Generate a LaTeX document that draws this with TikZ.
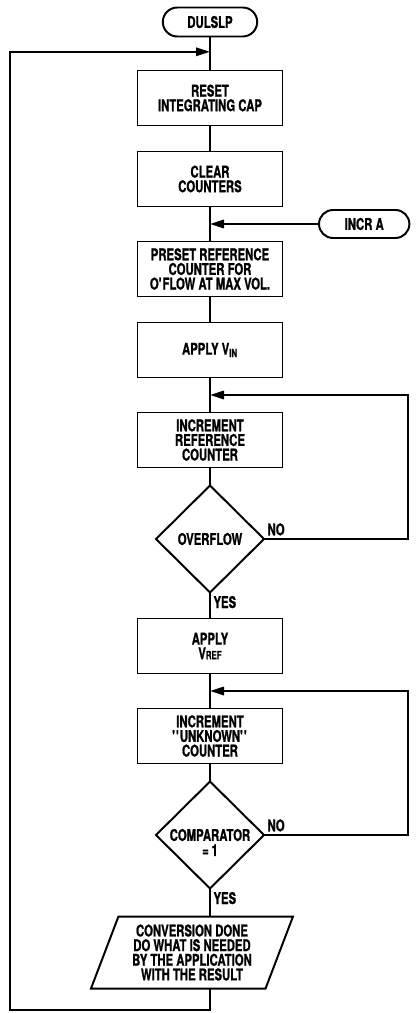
\documentclass[tikz,border=0pt]{standalone}
\usepackage{fontspec}
\setmainfont{TeX Gyre Heros}[FakeStretch=0.7, BoldFeatures={FakeBold=1}]
\usetikzlibrary{positioning}
\usetikzlibrary{calc}
\usetikzlibrary{shapes.geometric,shapes.misc,arrows.meta}

\begin{document}
\begin{tikzpicture}[
                line width=1.4pt,
                every node/.style={font=\fontsize{11.5}{10.4}\selectfont\bfseries, align=center, outer sep=0pt},
                term/.style={rounded rectangle, draw, minimum width=2.5cm, minimum height=0.725cm, inner sep=2pt},
                proc/.style={rectangle, draw, minimum width=3.625cm, minimum height=1.375cm, inner sep=2pt},
                dec/.style={diamond, draw, minimum width=2.7cm, minimum height=2.675cm, inner sep=0pt},
                io/.style={trapezium, trapezium left angle=65, trapezium right angle=115, trapezium stretches body,
                           draw, minimum width=5.05cm, minimum height=1.8cm, inner sep=1pt},
                lbl/.style={inner sep=2.5pt},
                arr/.style={-{Triangle[length=3.5mm,width=2.1mm]}}
            ]
            \useasboundingbox (0,0) rectangle (10.4,-25.325);
            % Nodes
            \node[term] (start) at (5.25,-0.55) {DULSLP};
            \node[proc, below=0.85cm of start] (reset) {RESET\\INTEGRATING CAP};
            \node[proc, below=0.65cm of reset] (clear) {CLEAR\\COUNTERS};
            \node[proc, below=0.875cm of clear] (preset) {PRESET REFERENCE\\COUNTER FOR\\O\textquotesingle FLOW AT MAX VOL.};
            \node[term, minimum width=2.4cm, minimum height=0.7cm, right=2.725cm of $(clear.south)!0.5!(preset.north)$] (incra) {INCR A};
            \node[proc, below=0.65cm of preset] (vin) {APPLY V\textsubscript{IN}};
            \node[proc, below=0.875cm of vin] (incref) {INCREMENT\\REFERENCE\\COUNTER};
            \node[dec, below=0.45cm of incref] (ovf) {OVERFLOW};
            \node[proc, below=0.65cm of ovf] (vref) {APPLY\\V{\footnotesize REF}};
            \node[proc, below=0.875cm of vref] (incunk) {INCREMENT\\\textquotesingle\textquotesingle UNKNOWN\textquotesingle\textquotesingle\\COUNTER};
            \node[dec, below=0.45cm of incunk] (cmp) {COMPARATOR};
            \node (cmpeq) at ([yshift=-0.38cm]cmp.center) {=\,1};
            \node[io, below=0.7cm of cmp, xshift=-0.45cm] (done) {CONVERSION DONE\\DO WHAT IS NEEDED\\BY THE APPLICATION\\WITH THE RESULT};
            \coordinate (back) at ($(start.south)!0.45!(reset.north)$);
            \coordinate (rside) at (10.2,0);
            \coordinate (lside) at (0.25,-25.25);
            % Arrows
            \draw (start) -- (reset);
            \draw (reset) -- (clear);
            \draw (clear) -- (preset);
            \draw[arr] (incra.west) -- (incra.west -| clear.south);
            \draw (preset) -- (vin);
            \draw (vin) -- (incref);
            \draw (incref) -- (ovf);
            \draw (ovf.south) node[lbl, below right] (yes1) {YES} -- (vref);
            \draw[arr] (ovf.east) node[lbl, above right] (no1) {NO} -- (ovf.east -| rside) |- ($(vin.south)!0.5!(incref.north)$);
            \draw (vref) -- (incunk);
            \draw (incunk) -- (cmp);
            \draw (cmp.south) node[lbl, below right] (yes2) {YES} -- (cmp.south |- done.north);
            \draw[arr] (cmp.east) node[lbl, above right] (no2) {NO} -- (cmp.east -| rside) |- ($(vref.south)!0.5!(incunk.north)$);
            \draw[arr] (done.south -| cmp.south) -- (cmp.south |- lside) -- (lside) |- (back);

            \end{tikzpicture}
\end{document}
